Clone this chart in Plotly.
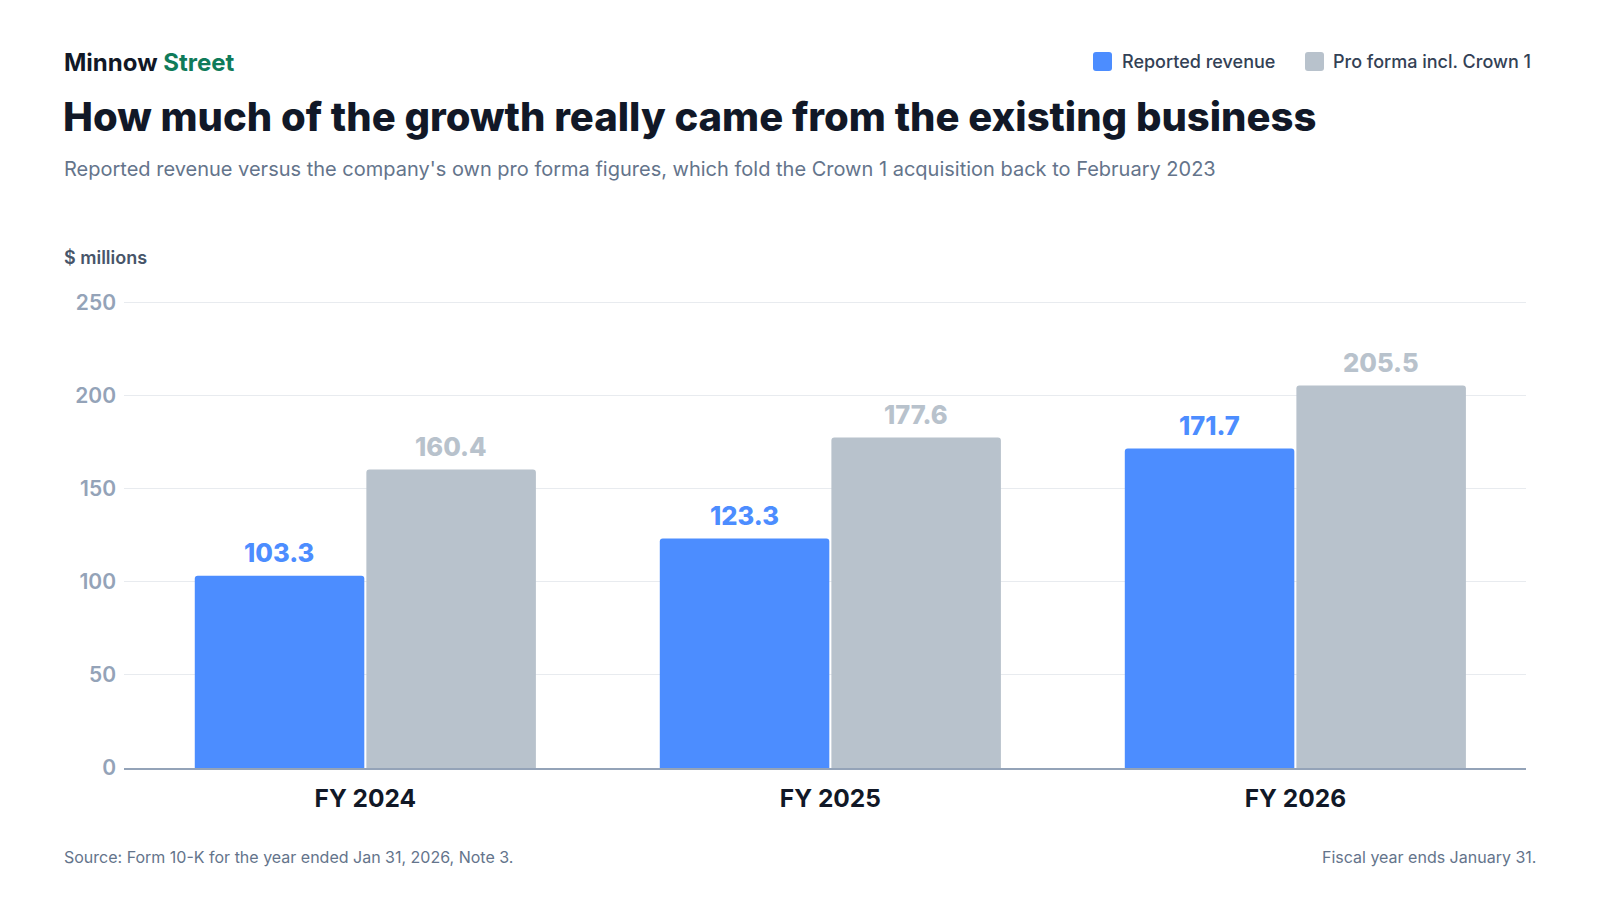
import plotly.graph_objects as go

years = ["FY 2024", "FY 2025", "FY 2026"]
reported = [103.3, 123.3, 171.7]
pro_forma = [160.4, 177.6, 205.5]
y_ticks = [0, 50, 100, 150, 200, 250]
series_names = ["Reported revenue", "Pro forma incl. Crown 1"]

BLUE = "#4c8dff"
GREY = "#b8c2cc"
DARK = "#111827"
MUTED = "#64748b"
FONT = "Inter"

# page body has an 8px margin, so the figure is a bit smaller than the window
W, H = 1584, 884
L, R, T, B = 116, 66, 291, 124


def px(x, y):
    # pixel position in the figure -> paper coordinates
    return (x - L) / (W - L - R), (H - B - y) / (H - T - B)


fig = go.Figure()
fig.add_bar(x=years, y=reported, name=series_names[0],
            marker=dict(color=BLUE, line=dict(width=0)))
fig.add_bar(x=years, y=pro_forma, name=series_names[1],
            marker=dict(color=GREY, line=dict(width=0)))

notes = []
shapes = []

# value labels above each bar
for vals, color, shift in [(reported, BLUE, -86), (pro_forma, GREY, 86)]:
    for yr, v in zip(years, vals):
        notes.append(dict(
            x=yr, y=v, xref="x", yref="y", text=f"{v:.1f}", showarrow=False,
            xshift=shift, yshift=23, yanchor="middle",
            font=dict(family=FONT, size=25.5, color=color, weight=800),
        ))


def note(x, y, text, size, color, weight=400, xanchor="left"):
    xp, yp = px(x, y)
    notes.append(dict(
        x=xp, y=yp, xref="paper", yref="paper", text=text, showarrow=False,
        xanchor=xanchor, yanchor="middle", align=xanchor,
        font=dict(family=FONT, size=size, color=color, weight=weight),
    ))


note(54, 54, "Minnow <span style='color:#0f7b5a'>Street</span>", 24, DARK, 700)
note(53, 108, "How much of the growth really came from the existing business", 40, DARK, 800)
note(54, 161, "Reported revenue versus the company's own pro forma figures, which fold the "
     "Crown 1 acquisition back to February 2023", 20, MUTED)
note(54, 249, "$ millions", 18, "#475569", 600)
note(54, 849, "Source: Form 10-K for the year ended Jan 31, 2026, Note 3.", 16, MUTED)
note(1530, 849, "Fiscal year ends January 31.", 16, MUTED, xanchor="right")

# legend: rounded swatches + labels
swatch = ("M-9.5,-6.5 L-9.5,6.5 Q-9.5,9.5 -6.5,9.5 L6.5,9.5 Q9.5,9.5 9.5,6.5 "
          "L9.5,-6.5 Q9.5,-9.5 6.5,-9.5 L-6.5,-9.5 Q-9.5,-9.5 -9.5,-6.5 Z")
for name, color, sx, tx in [(series_names[0], BLUE, 1094.5, 1112),
                            (series_names[1], GREY, 1306.5, 1323)]:
    ax, ay = px(sx, 53.5)
    shapes.append(dict(
        type="path", path=swatch, xref="paper", yref="paper",
        xsizemode="pixel", ysizemode="pixel", xanchor=ax, yanchor=ay,
        fillcolor=color, line=dict(width=0),
    ))
    note(tx, 53.5, name, 18, "#334155", 500)

fig.update_layout(
    width=W, height=H,
    margin=dict(l=L, r=R, t=T, b=B),
    paper_bgcolor="white", plot_bgcolor="white",
    barmode="group", bargap=0.262, bargroupgap=0.012, barcornerradius=3,
    font=dict(family=FONT, color=DARK),
    showlegend=False,
    annotations=notes,
    shapes=shapes,
)
fig.update_xaxes(
    range=[-0.519, 2.496], showgrid=False, ticks="",
    showline=True, linecolor="#94a3b8", linewidth=2,
    tickfont=dict(family=FONT, size=24.5, color=DARK, weight=700),
    ticklabelstandoff=8,
)
fig.update_yaxes(
    range=[0, 252], tickvals=y_ticks, showgrid=True,
    gridcolor="#e8ebef", gridwidth=1, zeroline=False, showline=False,
    tickfont=dict(family=FONT, size=21, color="#94a3b8", weight=600),
    ticklabelstandoff=7,
)

fig.write_html("out.html")
